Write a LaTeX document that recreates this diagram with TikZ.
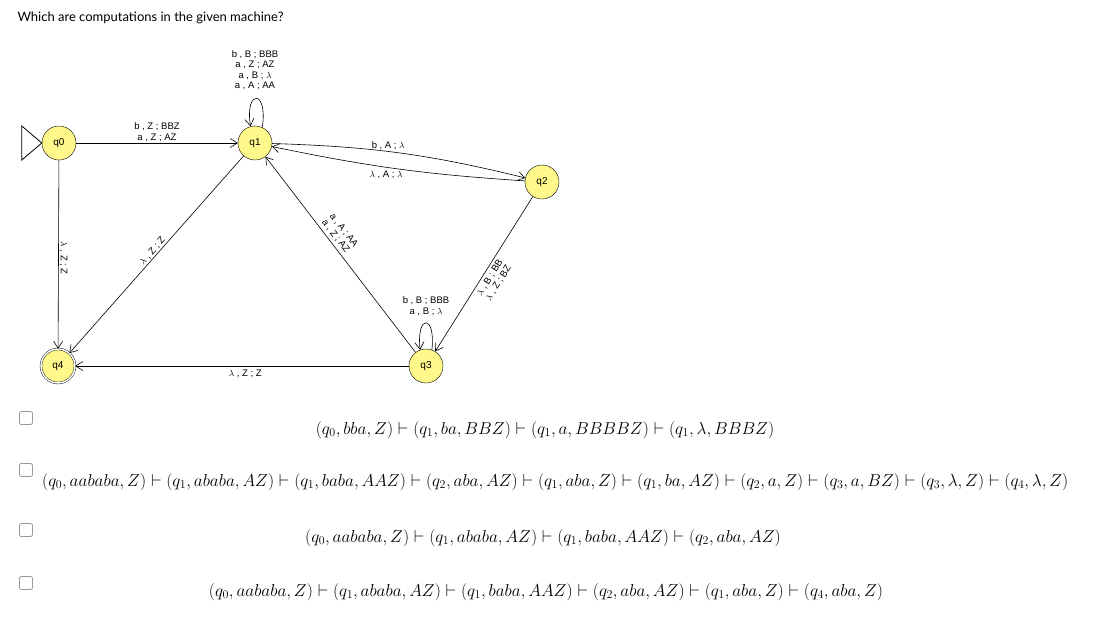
\documentclass[tikz,border=0pt]{standalone}
\usepackage{fontspec}
\setsansfont{Liberation Sans}
\newfontfamily\titlefont{Lato}
\usetikzlibrary{arrows.meta}
\begin{document}
\begin{tikzpicture}[x=1pt,y=-1pt,
  st/.style={circle,draw,fill=yellow!45,minimum size=34pt,inner sep=0pt,font=\sffamily\fontsize{10}{11}\selectfont},
  lab/.style={font=\sffamily\fontsize{9.5}{10.5}\selectfont,inner sep=1pt,align=center},
  tr/.style={-{Straight Barb[length=7pt,width=9pt]},line width=0.6pt},
  cb/.style={draw=gray!80,rounded corners=2pt,minimum size=13pt,inner sep=0pt,line width=0.8pt},
  comp/.style={font=\fontsize{17.1}{19}\selectfont,inner sep=0pt}]
\useasboundingbox (0,0) rectangle (1107,643);
\node[anchor=west,font=\titlefont\fontsize{13}{15}\selectfont] (title) at (14,18) {Which are computations in the given machine?};
\node[st] (q0) at (59,143) {q0};
\node[st] (q1) at (255,143) {q1};
\node[st] (q2) at (542,182) {q2};
\node[st] (q3) at (426,366) {q3};
\node[st,double,double distance=1.5pt] (q4) at (58,366) {q4};
\draw[line width=0.8pt] (q0.west) -- ++(-20,-17) -- ++(0,34) -- cycle;
\draw[tr] (q0) -- node[lab,above,align=center]{b , Z ; BBZ\\a , Z ; AZ} (q1);
\draw[tr] (q0) -- node[lab,pos=0.52,rotate=-90,anchor=south,xshift=0pt]{$\lambda$ , Z ; Z} (q4);
\draw[tr] (q1) -- node[lab,sloped,above,pos=0.5]{$\lambda$ , Z ; Z} (q4);
\draw[tr] (q1.65) .. controls +(6,-38) and +(-6,-38) .. (q1.105);
\node[lab,align=center] (l1) at (255,70) {b , B ; BBB\\a , Z ; AZ\\a , B ; $\lambda$\\a , A ; AA};
\draw[tr] (q1) to[bend left=6] node[lab,above,pos=0.45]{b , A ; $\lambda$} (q2);
\draw[tr] (q2) to[bend left=4] node[lab,below=2pt,pos=0.55]{$\lambda$ , A ; $\lambda$} (q1);
\draw[tr] (q3) -- node[lab,sloped,above=2pt,pos=0.57]{a , Z ; AZ} node[lab,sloped,above=12pt,pos=0.57]{a , A ; AA} (q1);
\draw[tr] (q2) -- node[lab,sloped,below=12pt,pos=0.5]{$\lambda$ , Z ; BZ} node[lab,sloped,below=2pt,pos=0.5]{$\lambda$ , B ; BB} (q3);
\draw[tr] (q3.70) .. controls +(4,-36) and +(-4,-36) .. (q3.110);
\node[lab,align=center] (l3) at (426,306) {b , B ; BBB\\a , B ; $\lambda$};
\draw[tr] (q3) -- node[lab,below=3pt,pos=0.49]{$\lambda$ , Z ; Z} (q4);
\node[cb] (c1) at (26,418) {};
\node[cb] (c2) at (26,470) {};
\node[cb] (c3) at (26,530) {};
\node[cb] (c4) at (26,583) {};
\node[comp] (t1) at (545,430) {$(q_0,bba,Z)\vdash(q_1,ba,BBZ)\vdash(q_1,a,BBBBZ)\vdash(q_1,\lambda,BBBZ)$};
\node[comp,anchor=west] (t2) at (42,482) {$(q_0,aababa,Z)\vdash(q_1,ababa,AZ)\vdash(q_1,baba,AAZ)\vdash(q_2,aba,AZ)\vdash(q_1,aba,Z)\vdash(q_1,ba,AZ)\vdash(q_2,a,Z)\vdash(q_3,a,BZ)\vdash(q_3,\lambda,Z)\vdash(q_4,\lambda,Z)$};
\node[comp] (t3) at (543,538) {$(q_0,aababa,Z)\vdash(q_1,ababa,AZ)\vdash(q_1,baba,AAZ)\vdash(q_2,aba,AZ)$};
\node[comp] (t4) at (546,592) {$(q_0,aababa,Z)\vdash(q_1,ababa,AZ)\vdash(q_1,baba,AAZ)\vdash(q_2,aba,AZ)\vdash(q_1,aba,Z)\vdash(q_4,aba,Z)$};
\end{tikzpicture}
\end{document}
